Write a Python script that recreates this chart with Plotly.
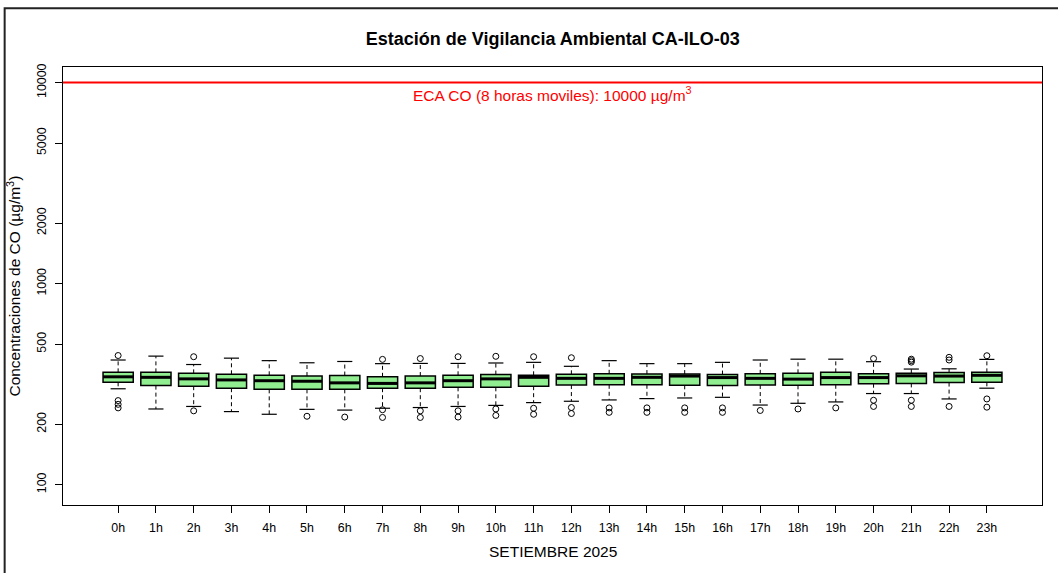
import plotly.graph_objects as go
import numpy as np

# Hourly CO concentrations (µg/m³) summary statistics
hours = [f"{h}h" for h in range(24)]
q1 = [323, 311, 309, 302, 298, 298, 298, 302, 302, 305, 305, 309,
      313, 314, 314, 312, 311, 313, 312, 314, 318, 319, 322, 323]
median = [344, 342, 336, 332, 329, 327, 321, 319, 321, 329, 336, 342,
          338, 338, 342, 347, 341, 338, 335, 341, 341, 348, 347, 350]
q3 = [362, 362, 358, 354, 350, 347, 349, 344, 347, 350, 353, 350,
      354, 356, 355, 355, 353, 356, 358, 362, 356, 358, 361, 362]
whisker_low = [300, 238, 245, 231, 224, 237, 235, 240, 242, 245, 248, 256,
               260, 264, 268, 270, 272, 249, 254, 258, 284, 284, 267, 302]
whisker_high = [417, 436, 396, 426, 414, 404, 410, 400, 401, 401, 403, 406,
                388, 414, 400, 400, 406, 417, 421, 421, 409, 376, 377, 420]
outliers = [
    [439, 262, 251, 241], [], [433, 233], [], [], [219], [217],
    [420, 236, 216], [424, 233, 216], [433, 233, 217], [435, 238, 221],
    [433, 240, 224], [428, 242, 226], [241, 229], [241, 229], [241, 229],
    [241, 229], [234], [238], [241], [424, 263, 245],
    [421, 414, 407, 263, 245], [430, 417, 245], [438, 267, 243],
]
eca_limit = 10000
y_ticks = [100, 200, 500, 1000, 2000, 5000, 10000]

FONT = "Arial, Liberation Sans, sans-serif"
pos = list(range(len(hours)))
box_w = 0.8
cap_w = box_w / 2
x_range = [-1.46, len(hours) - 1 + 1.46]

fig = go.Figure()

# dashed whiskers
wx, wy = [], []
for i in pos:
    wx += [i, i, None, i, i, None]
    wy += [q3[i], whisker_high[i], None, q1[i], whisker_low[i], None]
fig.add_trace(go.Scatter(x=wx, y=wy, mode="lines",
                         line=dict(color="black", width=1, dash="4px,3px"),
                         hoverinfo="skip"))

# whisker caps
cx, cy = [], []
for i in pos:
    cx += [i - cap_w / 2, i + cap_w / 2, None, i - cap_w / 2, i + cap_w / 2, None]
    cy += [whisker_high[i], whisker_high[i], None, whisker_low[i], whisker_low[i], None]
fig.add_trace(go.Scatter(x=cx, y=cy, mode="lines",
                         line=dict(color="black", width=1.2),
                         hoverinfo="skip"))

# boxes
fig.add_trace(go.Box(x=pos, q1=q1, median=median, q3=q3,
                     lowerfence=q1, upperfence=q3,
                     width=box_w, fillcolor="#90EE90",
                     line=dict(color="black", width=1.5),
                     boxpoints=False))

# thick median bars
mx, my = [], []
for i in pos:
    mx += [i - box_w / 2, i + box_w / 2, None]
    my += [median[i], median[i], None]
fig.add_trace(go.Scatter(x=mx, y=my, mode="lines",
                         line=dict(color="black", width=3),
                         hoverinfo="skip"))

# outliers
ox, oy = [], []
for i, vals in enumerate(outliers):
    ox += [i] * len(vals)
    oy += vals
fig.add_trace(go.Scatter(x=ox, y=oy, mode="markers",
                         marker=dict(symbol="circle-open", size=6,
                                     color="black", line=dict(width=1))))

# ECA reference line
fig.add_trace(go.Scatter(x=x_range, y=[eca_limit, eca_limit], mode="lines",
                         line=dict(color="#FF0000", width=2),
                         hoverinfo="skip"))

fig.add_annotation(x=(x_range[0] + x_range[1]) / 2, y=np.log10(eca_limit),
                   xref="x", yref="y",
                   text="ECA CO (8 horas moviles): 10000 µg/m<sup>3</sup>",
                   showarrow=False, yanchor="middle", yshift=-11,
                   font=dict(family=FONT, size=15.5, color="#FF0000"))

# axis titles
fig.add_annotation(x=-0.0505, y=0.5, xref="paper", yref="paper",
                   text="Concentraciones de CO (µg/m<sup>3</sup>)",
                   textangle=-90, showarrow=False,
                   xanchor="center", yanchor="middle",
                   font=dict(family=FONT, size=15.5, color="black"))
fig.add_annotation(x=0.5, y=-0.1072, xref="paper", yref="paper",
                   text="SETIEMBRE 2025", showarrow=False,
                   xanchor="center", yanchor="middle",
                   font=dict(family=FONT, size=15.5, color="black"))

# outer frame
fig.add_shape(type="rect", xref="paper", yref="paper",
              x0=-0.0596, x1=1.2, y0=-0.3, y1=1.134,
              line=dict(color="#222222", width=2), layer="above")

fig.update_layout(
    width=1058, height=573,
    margin=dict(l=63, r=16, t=67, b=68),
    paper_bgcolor="white", plot_bgcolor="white",
    showlegend=False,
    title=dict(text="<b>Estación de Vigilancia Ambiental CA-ILO-03</b>",
               x=0.5225, xanchor="center", y=1 - 39 / 573, yanchor="middle",
               font=dict(family=FONT, size=18, color="black")),
    font=dict(family=FONT, color="black"),
    xaxis=dict(range=x_range, tickmode="array", tickvals=pos, ticktext=hours,
               ticks="outside", ticklen=7, tickcolor="black",
               ticklabelstandoff=4,
               tickfont=dict(size=12.4), showgrid=False, zeroline=False,
               showline=True, linecolor="black", linewidth=1, mirror=True),
    yaxis=dict(type="log", range=[1.899, 4.0775], tickmode="array",
               tickvals=y_ticks, ticktext=[str(v) for v in y_ticks],
               tickangle=-90, ticks="outside", ticklen=7, tickcolor="black",
               ticklabelstandoff=4,
               tickfont=dict(size=12.4), showgrid=False, zeroline=False,
               showline=True, linecolor="black", linewidth=1, mirror=True),
)

fig.write_html("out.html")
